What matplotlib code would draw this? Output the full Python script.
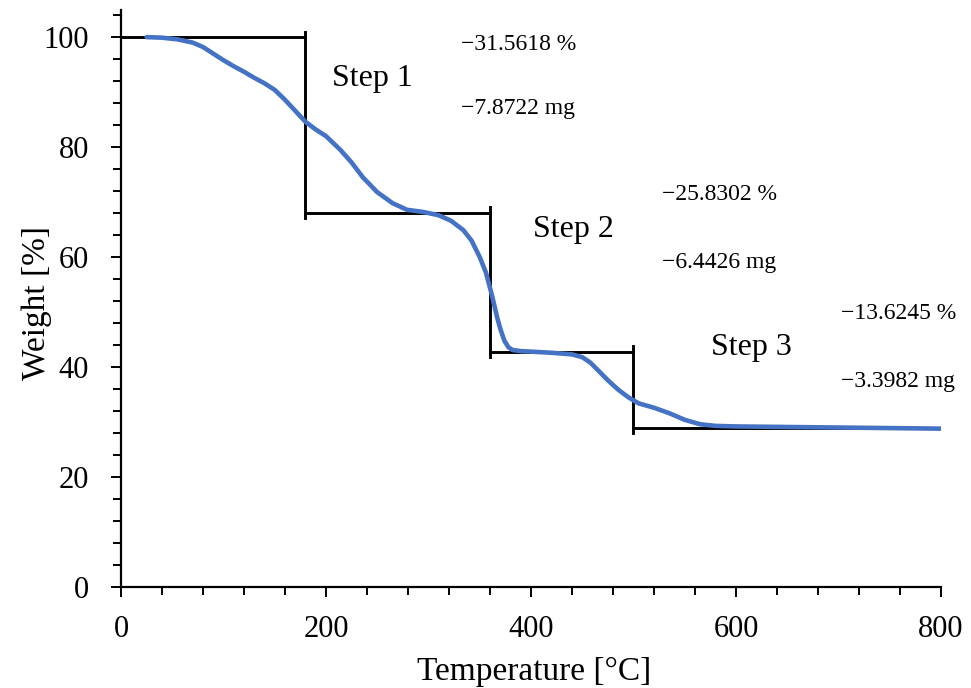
import matplotlib
matplotlib.use("Agg")
import matplotlib.pyplot as plt
from matplotlib.ticker import MultipleLocator

plt.rcParams['font.family'] = ['Liberation Serif', 'DejaVu Serif']

# TGA curve
temperature = [25, 40, 55, 70, 80, 90, 100, 110, 120, 130, 140, 150, 160, 170, 180,
               190, 200, 214, 225, 236, 250, 265, 279, 295, 310, 322, 334, 342, 350,
               356, 362, 367, 370, 374, 378, 382, 390, 400, 420, 440, 450, 458, 466,
               475, 485, 495, 505, 520, 535, 550, 565, 580, 600, 650, 700, 750, 800]
weight = [100, 99.9, 99.6, 99.0, 98.2, 97.0, 95.8, 94.7, 93.7, 92.6, 91.6, 90.4, 88.6,
          86.6, 84.6, 83.2, 82.0, 79.5, 77.2, 74.5, 71.8, 69.8, 68.6, 68.2, 67.6, 66.6,
          64.9, 63.0, 60.0, 57.2, 53.0, 49.0, 47.0, 44.8, 43.6, 43.1, 42.9, 42.8, 42.6,
          42.3, 41.8, 40.8, 39.3, 37.6, 35.9, 34.5, 33.4, 32.6, 31.6, 30.4, 29.6, 29.3,
          29.2, 29.1, 29.0, 28.9, 28.8]

# Step construction
step_edges = [0, 180, 360, 500, 800]
step_levels = [100, 68.1, 42.8, 29.0]
step_names = ["Step 1", "Step 2", "Step 3"]
loss_pct = ["\u221231.5618 %", "\u221225.8302 %", "\u221213.6245 %"]
loss_mg = ["\u22127.8722 mg", "\u22126.4426 mg", "\u22123.3982 mg"]

# label positions (data coords)
name_pos = [(206, 92.4), (402, 65.0), (576, 43.6)]
pct_pos = [(332, 98.7), (528, 71.4), (702, 49.8)]
mg_pos = [(332, 87.1), (528, 59.0), (702, 37.4)]

fig = plt.figure(figsize=(9.71, 6.88), dpi=100)
ax = fig.add_axes([0.1246, 0.1468, 0.9691 - 0.1246, 0.986 - 0.1468])

ax.plot(temperature, weight, color="#4472C4", lw=3.3, solid_capstyle='round',
        solid_joinstyle='round', zorder=3)

# step lines
for i in range(len(step_levels)):
    ax.plot([step_edges[i], step_edges[i + 1]], [step_levels[i], step_levels[i]],
            color="black", lw=2.1, zorder=2)
for i in range(1, len(step_levels)):
    x = step_edges[i]
    ax.plot([x, x], [step_levels[i - 1] + 1.0, step_levels[i] - 1.0],
            color="black", lw=2.1, zorder=2)

for i in range(3):
    ax.text(*name_pos[i], step_names[i], fontsize=23, ha="left", va="center")
    ax.text(*pct_pos[i], loss_pct[i], fontsize=17, ha="left", va="center")
    ax.text(*mg_pos[i], loss_mg[i], fontsize=17, ha="left", va="center")

ax.set_xlim(0, 800)
ax.set_ylim(0, 105)
ax.xaxis.set_major_locator(MultipleLocator(200))
ax.xaxis.set_minor_locator(MultipleLocator(40))
ax.yaxis.set_major_locator(MultipleLocator(20))
ax.yaxis.set_minor_locator(MultipleLocator(4))
ax.spines['top'].set_visible(False)
ax.spines['right'].set_visible(False)
for s in ['left', 'bottom']:
    ax.spines[s].set_linewidth(1.6)
ax.tick_params(which='major', direction='out', length=7.5, width=1.4, labelsize=22)
ax.tick_params(which='minor', direction='out', length=6, width=1.4)
ax.tick_params(axis='x', which='major', pad=13)
ax.tick_params(axis='y', which='major', pad=15.5)

xl = ax.set_xlabel("Temperature [\u00b0C]", fontsize=24)
xl.set_va('baseline')
ax.xaxis.set_label_coords(0.5037, -0.161)
yl = ax.set_ylabel("Weight [%]", fontsize=24)
yl.set_va('baseline')
ax.yaxis.set_label_coords(-0.0927, 0.492)

fig.savefig("out.png", dpi=100)
